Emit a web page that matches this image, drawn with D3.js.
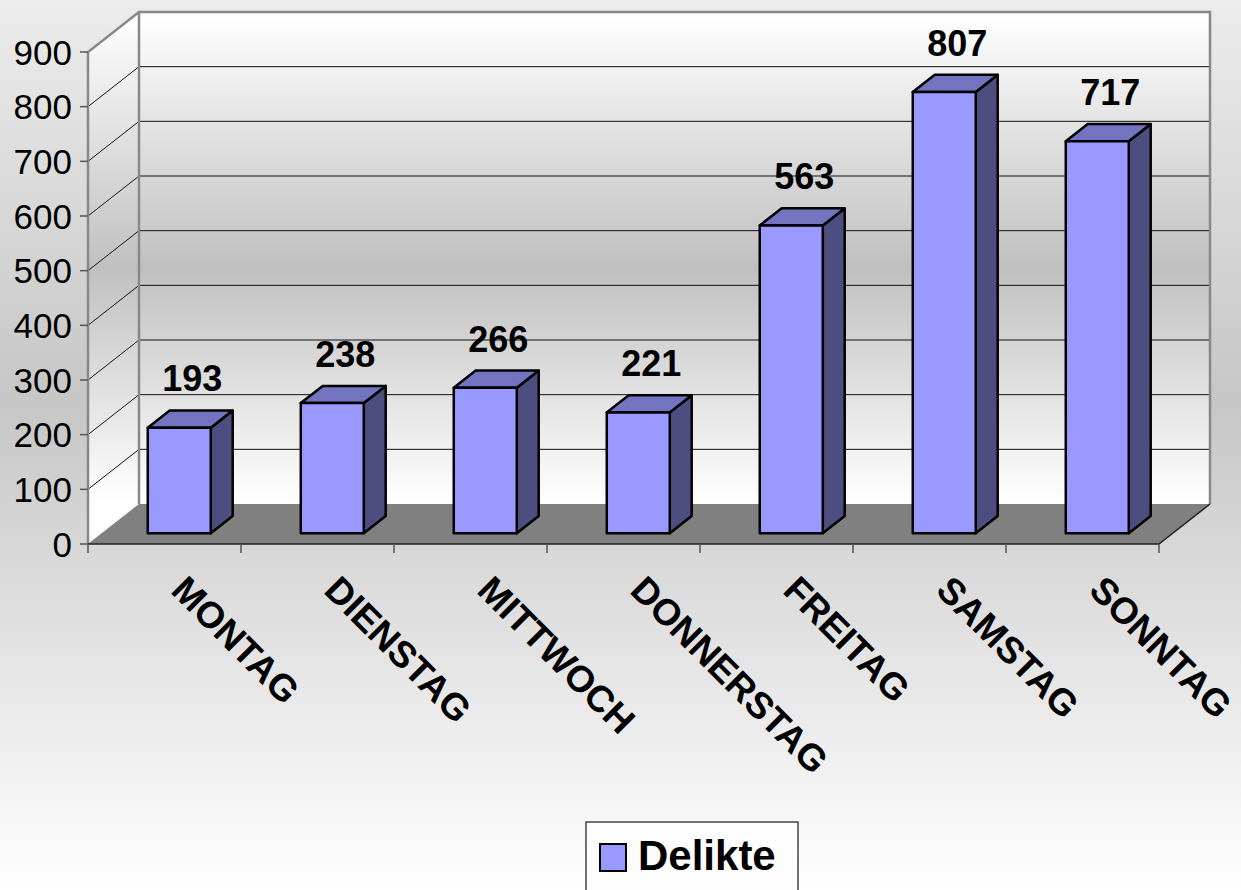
<!DOCTYPE html>
<html lang="de">
<head>
<meta charset="UTF-8">
<title>Delikte nach Wochentag</title>
<script src="https://cdn.jsdelivr.net/npm/d3@7"></script>
<style>
    body{ margin:0; overflow:hidden; }
    text{ font-family: Arial, "Liberation Sans", sans-serif; }
</style>
</head>
<body>
<div id="chart"></div>
<script>
    // ---------- data ----------
    const days = ["MONTAG","DIENSTAG","MITTWOCH","DONNERSTAG","FREITAG","SAMSTAG","SONNTAG"];
    const delikte = [193, 238, 266, 221, 563, 807, 717];
    const yTicks = [0,100,200,300,400,500,600,700,800,900];
    const seriesName = "Delikte";

    // ---------- layout ----------
    const width = 1241, height = 890;
    const DX = 51, DY = 40;          // 3d depth offset of the plot box
    const barFront = 0.27, barBack = 0.70, barW = 63;

    const x = d3.scaleBand().domain(days).range([88, 1159]);
    const y = d3.scaleLinear().domain([0, 900]).range([544, 52]);
    // project a point (front x, value, depth 0..1)
    const P = (px, v, d) => [px + d*DX, y(v) - d*DY];
    const poly = pts => pts.map(p => p.join(",")).join(" ");

    const svg = d3.select("#chart").append("svg")
        .attr("width", width).attr("height", height);

    const defs = svg.append("defs");
    const bg = defs.append("linearGradient").attr("id","bg")
        .attr("x1",0).attr("y1",0).attr("x2",0).attr("y2",1);
    bg.append("stop").attr("offset",0).attr("stop-color","#ececec");
    bg.append("stop").attr("offset",0.45).attr("stop-color","#c6c6c6");
    bg.append("stop").attr("offset",1).attr("stop-color","#ffffff");

    const wall = defs.append("linearGradient").attr("id","wall")
        .attr("gradientUnits","userSpaceOnUse")
        .attr("x1",0).attr("y1",y(900)-DY).attr("x2",0).attr("y2",y(0)-DY);
    wall.append("stop").attr("offset",0).attr("stop-color","#ffffff");
    wall.append("stop").attr("offset",0.52).attr("stop-color","#c0c0c0");
    wall.append("stop").attr("offset",1).attr("stop-color","#ffffff");

    svg.append("rect").attr("width",width).attr("height",height).attr("fill","url(#bg)");

    const x0 = x.range()[0], x1 = x.range()[1];

    // ---------- walls & floor ----------
    const box = svg.append("g");
    // back wall
    box.append("polygon")
        .attr("points", poly([P(x0,0,1), P(x0,900,1), P(x1,900,1), P(x1,0,1)]))
        .attr("fill","url(#wall)");
    // side wall
    box.append("polygon")
        .attr("points", poly([P(x0,0,0), P(x0,900,0), P(x0,900,1), P(x0,0,1)]))
        .attr("fill","url(#wall)");
    // floor
    box.append("polygon")
        .attr("points", poly([P(x0,0,0), P(x1,0,0), P(x1,0,1), P(x0,0,1)]))
        .attr("fill","#808080");

    // gridlines
    const grid = yTicks.filter(t => t > 0 && t < 900);
    box.selectAll(".gback").data(grid).join("line")
        .attr("x1", P(x0,0,1)[0]).attr("x2", P(x1,0,1)[0])
        .attr("y1", d => P(x0,d,1)[1]).attr("y2", d => P(x0,d,1)[1])
        .attr("stroke","#111").attr("stroke-width",1);
    box.selectAll(".gside").data(grid).join("line")
        .attr("x1", P(x0,0,0)[0]).attr("x2", P(x0,0,1)[0])
        .attr("y1", d => P(x0,d,0)[1]).attr("y2", d => P(x0,d,1)[1])
        .attr("stroke","#111").attr("stroke-width",1);

    // wall borders
    box.append("polyline")
        .attr("points", poly([P(x0,0,0), P(x0,900,0), P(x0,900,1), P(x1,900,1), P(x1,0,1)]))
        .attr("fill","none").attr("stroke","#888").attr("stroke-width",2.5);
    box.append("line")
        .attr("x1",P(x0,0,1)[0]).attr("y1",P(x0,0,1)[1])
        .attr("x2",P(x0,900,1)[0]).attr("y2",P(x0,900,1)[1])
        .attr("stroke","#888").attr("stroke-width",2.5);
    box.append("polyline")
        .attr("points", poly([P(x0,0,0), P(x1,0,0), P(x1,0,1)]))
        .attr("fill","none").attr("stroke","#222").attr("stroke-width",1.5);

    // ---------- axes ----------
    const yAxis = svg.append("g");
    yAxis.selectAll("line").data(yTicks).join("line")
        .attr("x1", x0-8).attr("x2", x0).attr("y1", d => y(d)).attr("y2", d => y(d))
        .attr("stroke","#555").attr("stroke-width",1.5);
    yAxis.selectAll("text").data(yTicks).join("text")
        .attr("x", x0-16).attr("y", d => y(d)).attr("dy","0.36em")
        .attr("text-anchor","end").attr("font-size",35).attr("fill","#000")
        .text(d => d);

    const bounds = days.map(d => x(d)).concat([x1]);
    svg.append("g").selectAll("line").data(bounds).join("line")
        .attr("x1", d => d).attr("x2", d => d).attr("y1", y(0)).attr("y2", y(0)+9)
        .attr("stroke","#555").attr("stroke-width",1.5);

    svg.append("g").selectAll("text").data(days).join("text")
        .attr("transform", d => `translate(${x(d)+x.bandwidth()/2+5},592) rotate(45)`)
        .attr("font-size",37).attr("font-weight","bold").attr("fill","#000")
        .text(d => d);

    // ---------- bars ----------
    const bars = svg.append("g").selectAll("g").data(days).join("g");
    const bx = d => x(d) + x.bandwidth()/2 - barW/2 + 1;
    bars.append("polygon")   // side
        .attr("points", (d,i) => { const a = bx(d)+barW, v = delikte[i];
            return poly([P(a,0,barFront), P(a,v,barFront), P(a,v,barBack), P(a,0,barBack)]); })
        .attr("fill","#4d4d80");
    bars.append("polygon")   // top
        .attr("points", (d,i) => { const a = bx(d), v = delikte[i];
            return poly([P(a,v,barFront), P(a+barW,v,barFront), P(a+barW,v,barBack), P(a,v,barBack)]); })
        .attr("fill","#7373bf");
    bars.append("polygon")   // front
        .attr("points", (d,i) => { const a = bx(d), v = delikte[i];
            return poly([P(a,0,barFront), P(a,v,barFront), P(a+barW,v,barFront), P(a+barW,0,barFront)]); })
        .attr("fill","#9999ff");
    bars.selectAll("polygon")
        .attr("stroke","#000").attr("stroke-width",2.5).attr("stroke-linejoin","round");

    bars.append("text")
        .attr("x", d => (bx(d) + barFront*DX + bx(d) + barW + barBack*DX)/2 + 2)
        .attr("y", (d,i) => P(0, delikte[i], barBack)[1] - 19)
        .attr("text-anchor","middle").attr("font-size",36).attr("font-weight","bold")
        .text((d,i) => delikte[i]);

    // ---------- legend ----------
    const leg = svg.append("g").attr("transform","translate(586,822)");
    leg.append("rect").attr("width",212).attr("height",80)
        .attr("fill","#fdfdfd").attr("stroke","#444").attr("stroke-width",1.5);
    leg.append("rect").attr("x",14).attr("y",22).attr("width",26).attr("height",27)
        .attr("fill","#9999ff").attr("stroke","#000").attr("stroke-width",2);
    leg.append("text").attr("x",52).attr("y",48)
        .attr("font-size",42).attr("font-weight","bold").text(seriesName);
</script>
</body>
</html>
